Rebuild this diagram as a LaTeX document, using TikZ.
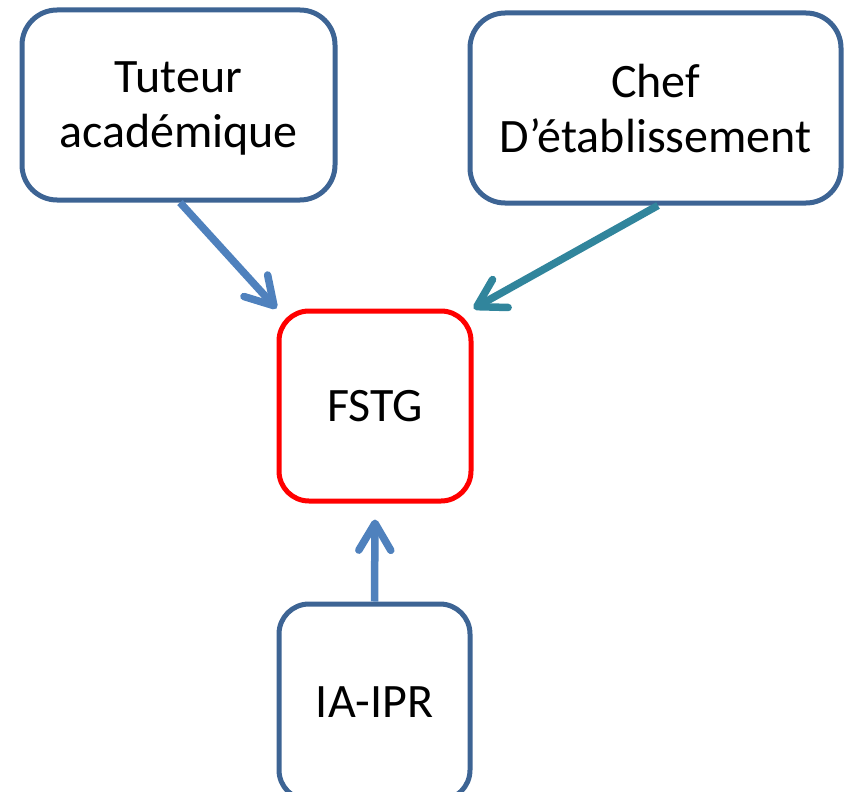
\documentclass[tikz,border=0pt]{standalone}
\usepackage{fontspec}
\setmainfont{Carlito}
\usetikzlibrary{arrows.meta}
\definecolor{boxblue}{HTML}{3D6494}
\definecolor{arrblue}{HTML}{4F81BD}
\definecolor{arrteal}{HTML}{31859C}
\definecolor{fstgred}{HTML}{FF0000}
\tikzset{
  box/.style={draw=boxblue, line width=5pt, rounded corners=35pt, align=center,
    font=\fontsize{48}{55}\selectfont, inner sep=0pt},
  conn/.style={line width=7.5pt, -{Straight Barb[length=27pt, width=32pt, line cap=round, line join=round]}},
}
\begin{document}
\begin{tikzpicture}[x=1pt, y=-1pt]
\useasboundingbox (0,0) rectangle (846,792);
\node[box, text depth=0pt, minimum width=313pt, minimum height=190pt] (tut) at (178.5,105) {Tuteur\\académique};
\node[box, text depth=0pt, minimum width=371pt, minimum height=190pt] (chef) at (655.5,108) {Chef\\D’établissement};
\node[box, draw=fstgred, rounded corners=30pt, minimum width=192pt, minimum height=190pt] (fstg) at (375,406) {FSTG};
\node[box, rounded corners=30pt, minimum width=191pt, minimum height=196pt] (ia) at (374.5,702) {IA-IPR};
\draw[conn, arrblue] ([xshift=1.5pt]tut.south) -- (fstg.north west);
\draw[conn, arrteal] ([xshift=2.5pt]chef.south) -- (fstg.north east);
\draw[conn, arrblue] (ia.north) -- ([yshift=-16pt]fstg.south);
\end{tikzpicture}
\end{document}
